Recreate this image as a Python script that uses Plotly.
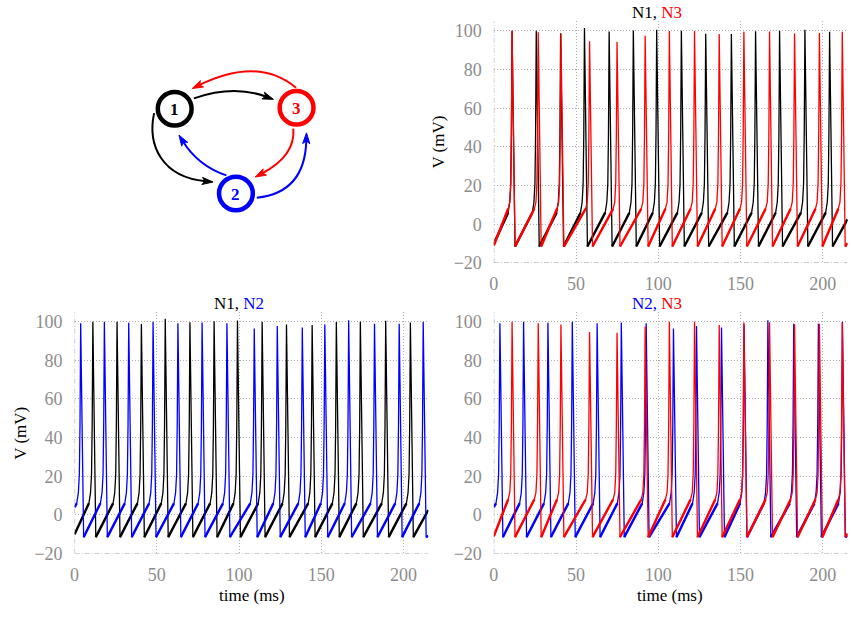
import plotly.graph_objects as go

FIG_W, FIG_H = 851, 618

# ---- membrane potential data (ms, mV) ----
n1_spike_t = [11.1, 25.8, 40.6, 55.1, 70.1, 84.8, 99.0, 114.0, 128.8, 144.4, 159.1, 173.7, 189.1, 204.1]
n1_spike_v = [100.0, 100.0, 98.8, 101.5, 99.7, 100.2, 100.6, 100.0, 98.5, 98.3, 99.8, 100.0, 100.5, 99.5]
n2_spike_t = [3.7, 18.1, 32.9, 47.7, 62.8, 77.5, 92.6, 109.2, 123.2, 138.4, 152.1, 166.6, 182.3, 197.3, 211.9]
n2_spike_v = [99.1, 100.0, 99.4, 99.9, 99.1, 99.6, 99.2, 96.4, 97.7, 97.0, 98.5, 100.7, 98.9, 98.9, 99.9]
n3_spike_t = [11.1, 27.0, 40.8, 58.2, 74.9, 92.0, 106.7, 122.0, 137.0, 152.0, 167.6, 182.8, 197.9, 211.8]
n3_spike_v = [100.0, 99.2, 98.5, 94.6, 94.3, 97.5, 99.9, 99.9, 98.3, 99.5, 99.7, 98.6, 98.9, 99.5]

# potential at start / end of the recording
v_start = {"N1": -10.0, "N2": 4.0, "N3": -11.0}
v_end = {"N1": 2.5, "N2": -10.8, "N3": -9.7}
# potential where the upstroke begins
v_pre = {"N1": 6.0, "N2": 6.0, "N3": 8.0}
v_reset = -11.5

# spike waveform: upstroke points before the peak, and fall time to reset
upstroke_dt = [-2.4, -1.4, -0.8, -0.4]
upstroke_v = [None, 11.5, 21.0, 47.0]  # first value is the neuron's pre-spike level
fall_dt = 1.8

t_end = 215.0
x_ticks = [0, 50, 100, 150, 200]
y_ticks = [-20, 0, 20, 40, 60, 80, 100]

colors = {"N1": "#000000", "N2": "#0000ff", "N3": "#ff0000"}
spikes = {
    "N1": (n1_spike_t, n1_spike_v),
    "N2": (n2_spike_t, n2_spike_v),
    "N3": (n3_spike_t, n3_spike_v),
}


def build_trace(name):
    """Full voltage trace and its sub-threshold segments."""
    ts_list, pk_list = spikes[name]
    t, v = [0.0], [v_start[name]]
    sub_t, sub_v = [0.0], [v_start[name]]
    for ts, pk in zip(ts_list, pk_list):
        for dt, uv in zip(upstroke_dt, upstroke_v):
            if ts + dt > t[-1]:
                t.append(ts + dt)
                v.append(v_pre[name] if uv is None else uv)
        sub_t += [ts + upstroke_dt[0], None]
        sub_v += [v_pre[name], None]
        t += [ts, ts + fall_dt]
        v += [pk, v_reset]
        sub_t.append(ts + fall_dt)
        sub_v.append(v_reset)
    t.append(t_end)
    v.append(v_end[name])
    sub_t.append(t_end)
    sub_v.append(v_end[name])
    return t, v, sub_t, sub_v


def px(x, y):
    return x / FIG_W, 1 - y / FIG_H


fig = go.Figure()

# panel geometry in pixels: (left, right, top, bottom)
panels = [
    ("x", "y", ["N1", "N3"], (491.7, 847.5, 21.7, 267.3)),
    ("x2", "y2", ["N1", "N2"], (70.0, 425.8, 317.3, 562.7)),
    ("x3", "y3", ["N2", "N3"], (491.7, 847.5, 317.3, 562.7)),
]

traces = {n: build_trace(n) for n in colors}
y_top = 104.9

axis_font = dict(family="Liberation Serif", size=18, color="#8c8c8c")
annotations = []
shapes = []

for xa, ya, names, (l, r, tp, bt) in panels:
    for n in names:
        t, v, st, sv = traces[n]
        fig.add_trace(go.Scatter(x=t, y=v, mode="lines", xaxis=xa, yaxis=ya,
                                 line=dict(color=colors[n], width=1.3),
                                 showlegend=False, hoverinfo="skip"))
        fig.add_trace(go.Scatter(x=st, y=sv, mode="lines", xaxis=xa, yaxis=ya,
                                 line=dict(color=colors[n], width=2.4),
                                 showlegend=False, hoverinfo="skip"))
    suffix = xa[1:]
    x0, _ = px(l, 0)
    x1, _ = px(r, 0)
    _, y1 = px(0, tp)
    _, y0 = px(0, bt)
    common = dict(showline=False, zeroline=False, showgrid=True,
                  gridcolor="#b0b0b0", griddash="1px,2px", gridwidth=1,
                  ticks="", tickfont=axis_font)
    fig.update_layout(**{
        "xaxis" + suffix: dict(domain=[x0, x1], range=[0, t_end], tickvals=x_ticks,
                               anchor=ya, ticklabelstandoff=8, **common),
        "yaxis" + suffix: dict(domain=[y0, y1], range=[-20, y_top], tickvals=y_ticks,
                               anchor=xa, ticklabelstandoff=11, **common),
    })
    # dash-dot axis lines
    axis_line = dict(color="#9a9a9a", width=1, dash="5px,2px,1px,2px")
    shapes.append(dict(type="line", xref=xa, yref=ya, x0=0, x1=0, y0=-20, y1=y_top,
                       line=axis_line, layer="above"))
    shapes.append(dict(type="line", xref=xa, yref=ya, x0=0, x1=t_end, y0=-20, y1=-20,
                       line=axis_line, layer="above"))

# panel titles
title_font = dict(family="Liberation Serif", size=17, color="#000000")
for text, (cx, cy) in [
    ("N1, <span style='color:#ff0000'>N3</span>", (656, 13)),
    ("N1, <span style='color:#0000ff'>N2</span>", (235, 308)),
    ("<span style='color:#0000ff'>N2,</span> <span style='color:#ff0000'>N3</span>", (656, 308)),
]:
    ax, ay = px(cx, cy)
    annotations.append(dict(text=text, x=ax, y=ay, xref="paper", yref="paper",
                            showarrow=False, xanchor="center", yanchor="middle",
                            font=title_font))

# axis titles
for text, (cx, cy), ang in [
    ("V (mV)", (436, 144.5), -90),
    ("V (mV)", (16, 440), -90),
    ("time (ms)", (248, 605), 0),
    ("time (ms)", (669, 605), 0),
]:
    ax, ay = px(cx, cy)
    annotations.append(dict(text=text, x=ax, y=ay, xref="paper", yref="paper",
                            showarrow=False, xanchor="center", yanchor="middle",
                            textangle=ang, font=title_font))

# ---- network diagram ----
nodes = {"1": (170.7, 110.5, "#000000"), "2": (232.3, 196.7, "#0000ff"),
         "3": (293.3, 109.5, "#ff0000")}
node_r = 17.0
for label, (cx, cy, col) in nodes.items():
    xa0, ya0 = px(cx - node_r, cy + node_r)
    xa1, ya1 = px(cx + node_r, cy - node_r)
    shapes.append(dict(type="circle", xref="paper", yref="paper",
                       x0=xa0, y0=ya0, x1=xa1, y1=ya1,
                       line=dict(color=col, width=4.5), fillcolor="white"))
    lx, ly = px(cx, cy + 1)
    annotations.append(dict(text="<b>%s</b>" % label, x=lx, y=ly, xref="paper",
                            yref="paper", showarrow=False, xanchor="center",
                            yanchor="middle",
                            font=dict(family="Liberation Serif", size=17, color=col)))

# edges: start, control points, tip (pixels)
edges = [
    ((190.0, 100.0), [(230.0, 86.0)], (270.0, 101.0), "#000000"),
    ((292.7, 89.3), [(255.0, 57.0)], (188.3, 90.0), "#ff0000"),
    ((150.0, 115.0), [(143.0, 148.0), (158.0, 180.0)], (209.3, 185.0), "#000000"),
    ((222.7, 178.3), [(194.5, 168.8)], (175.0, 137.3), "#0000ff"),
    ((290.0, 130.7), [(292.5, 158.0)], (251.7, 180.0), "#ff0000"),
    ((253.3, 201.0), [(301.7, 196.0)], (303.3, 135.0), "#0000ff"),
]
head_len, head_w = 11.0, 3.6


def pstr(x, y):
    a, b = px(x, y)
    return "%.5f,%.5f" % (a, b)


for (sx, sy), ctrl, (tx, ty), col in edges:
    cxl, cyl = ctrl[-1]
    dx, dy = tx - cxl, ty - cyl
    norm = (dx * dx + dy * dy) ** 0.5
    dx, dy = dx / norm, dy / norm
    nx, ny = -dy, dx
    bx, by = tx - head_len * 0.7 * dx, ty - head_len * 0.7 * dy
    if len(ctrl) == 1:
        path = "M %s Q %s %s" % (pstr(sx, sy), pstr(*ctrl[0]), pstr(bx, by))
    else:
        path = "M %s C %s %s %s" % (pstr(sx, sy), pstr(*ctrl[0]), pstr(*ctrl[1]),
                                    pstr(bx, by))
    shapes.append(dict(type="path", xref="paper", yref="paper", path=path,
                       line=dict(color=col, width=2)))
    ex, ey = tx - head_len * dx, ty - head_len * dy
    head = "M %s L %s L %s L %s Z" % (
        pstr(tx, ty),
        pstr(ex + head_w * nx, ey + head_w * ny),
        pstr(tx - head_len * 0.75 * dx, ty - head_len * 0.75 * dy),
        pstr(ex - head_w * nx, ey - head_w * ny),
    )
    shapes.append(dict(type="path", xref="paper", yref="paper", path=head,
                       fillcolor=col, line=dict(color=col, width=1)))

fig.update_layout(
    width=FIG_W, height=FIG_H,
    margin=dict(l=0, r=0, t=0, b=0),
    paper_bgcolor="white", plot_bgcolor="white",
    showlegend=False,
    shapes=shapes, annotations=annotations,
)

fig.write_html("out.html")
